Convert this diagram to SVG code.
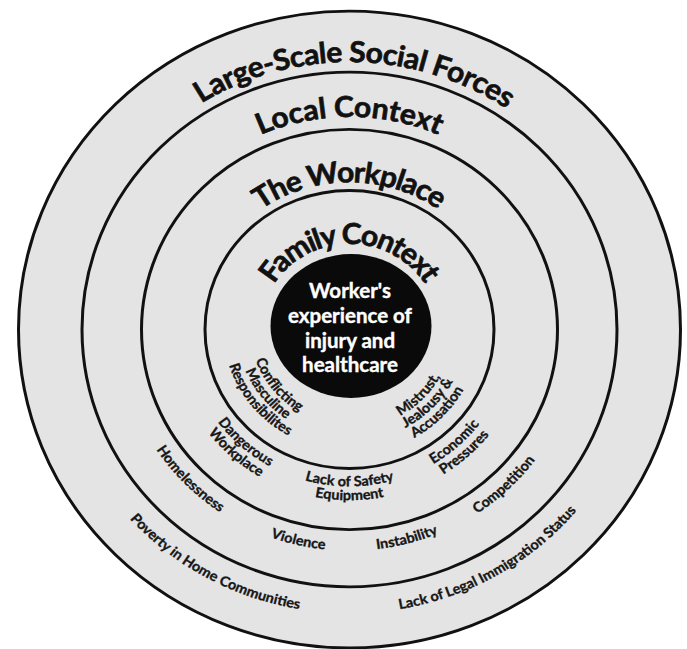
<svg xmlns="http://www.w3.org/2000/svg" width="687" height="649" viewBox="0 0 687 649">
  <style>
    .ring { fill: #e4e4e4; stroke: #111; stroke-width: 3; }
    .title { font-family: Lato, "Open Sans", sans-serif; font-weight: 700; font-size: 30px; fill: #111; stroke: #111; stroke-width: 0.7; text-anchor: middle; }
    .lbl { font-family: Lato, "Open Sans", sans-serif; font-weight: 700; font-size: 14.5px; fill: #161616; stroke: #161616; stroke-width: 0.35; text-anchor: middle; }
    .core { font-family: Lato, "Open Sans", sans-serif; font-weight: 700; font-size: 20.5px; fill: #fff; stroke: #fff; stroke-width: 0.4; text-anchor: middle; }
  </style>
  <defs>
    <!-- upper arcs: run left to right over the top, letters face outward -->
    <path id="t278" d="M -278 0 A 278 278 0 0 1 278 0"/>
    <path id="t221" d="M -221 0 A 221 221 0 0 1 221 0"/>
    <path id="t153" d="M -153 0 A 153 153 0 0 1 153 0"/>
    <path id="t89" d="M -89 0 A 89 89 0 0 1 89 0"/>
    <!-- lower arcs: run left to right under the bottom, letters face the centre -->
    <path id="b99" d="M -99 0 A 99 99 0 0 0 99 0"/>
    <path id="b112" d="M -112.5 0 A 112.5 112.5 0 0 0 112.5 0"/>
    <path id="b126" d="M -126 0 A 126 126 0 0 0 126 0"/>
    <path id="b103" d="M -103 0 A 103 103 0 0 0 103 0"/>
    <path id="b116" d="M -116.5 0 A 116.5 116.5 0 0 0 116.5 0"/>
    <path id="b130" d="M -130 0 A 130 130 0 0 0 130 0"/>
    <path id="b163" d="M -163 0 A 163 163 0 0 0 163 0"/>
    <path id="b177" d="M -177.5 0 A 177.5 177.5 0 0 0 177.5 0"/>
    <path id="b230" d="M -230 0 A 230 230 0 0 0 230 0"/>
    <path id="b295" d="M -295 0 A 295 295 0 0 0 295 0"/>
  </defs>

  <rect width="687" height="649" fill="#fff"/>

  <!-- concentric rings share one centre; the whole set is slightly flattened -->
  <g transform="translate(349.5 329.5) scale(1 0.962)">
    <g id="large-scale-social-forces">
      <circle class="ring" r="331"/>
      <text class="title"><textPath href="#t278" startOffset="50.6%" textLength="323">Large-Scale Social Forces</textPath></text>
      <text class="lbl"><textPath href="#b295" startOffset="33.9%">Poverty in Home Communities</textPath></text>
      <text class="lbl"><textPath href="#b295" startOffset="66.7%">Lack of Legal Immigration Status</textPath></text>
    </g>

    <g id="local-context">
      <circle class="ring" r="267.5"/>
      <text class="title"><textPath href="#t221" startOffset="50%" textLength="183">Local Context</textPath></text>
      <text class="lbl"><textPath href="#b230" startOffset="24.6%">Homelessness</textPath></text>
      <text class="lbl"><textPath href="#b230" startOffset="42.7%">Violence</textPath></text>
      <text class="lbl"><textPath href="#b230" startOffset="58.2%">Instability</textPath></text>
      <text class="lbl"><textPath href="#b230" startOffset="74.3%">Competition</textPath></text>
    </g>

    <g id="the-workplace">
      <circle class="ring" r="208"/>
      <text class="title"><textPath href="#t153" startOffset="50%" textLength="189">The Workplace</textPath></text>
      <text class="lbl"><textPath href="#b163" startOffset="26.9%">Dangerous</textPath></text>
      <text class="lbl"><textPath href="#b177" startOffset="26.9%">Workplace</textPath></text>
      <text class="lbl"><textPath href="#b163" startOffset="50%">Lack of Safety</textPath></text>
      <text class="lbl"><textPath href="#b177" startOffset="50%">Equipment</textPath></text>
      <text class="lbl"><textPath href="#b163" startOffset="73.3%">Economic</textPath></text>
      <text class="lbl"><textPath href="#b177" startOffset="73.3%">Pressures</textPath></text>
    </g>

    <g id="family-context">
      <circle class="ring" r="144.5"/>
      <text class="title"><textPath href="#t89" startOffset="50%" textLength="180">Family Context</textPath></text>
      <text class="lbl"><textPath href="#b99" startOffset="21.7%">Conflicting</textPath></text>
      <text class="lbl"><textPath href="#b112" startOffset="21.7%">Masculine</textPath></text>
      <text class="lbl"><textPath href="#b126" startOffset="21.7%">Responsibilites</textPath></text>
      <text class="lbl"><textPath href="#b103" startOffset="75.3%">Mistrust,</textPath></text>
      <text class="lbl"><textPath href="#b116" startOffset="75.3%">Jealousy &amp;</textPath></text>
      <text class="lbl"><textPath href="#b130" startOffset="75.3%">Accusation</textPath></text>
    </g>
  </g>

  <g id="worker-experience">
    <ellipse cx="351" cy="326" rx="80.5" ry="72" fill="#0a0a0a"/>
    <text class="core" x="350" y="298">Worker's</text>
    <text class="core" x="350" y="323">experience of</text>
    <text class="core" x="350" y="347.5">injury and</text>
    <text class="core" x="350" y="372">healthcare</text>
  </g>
</svg>
